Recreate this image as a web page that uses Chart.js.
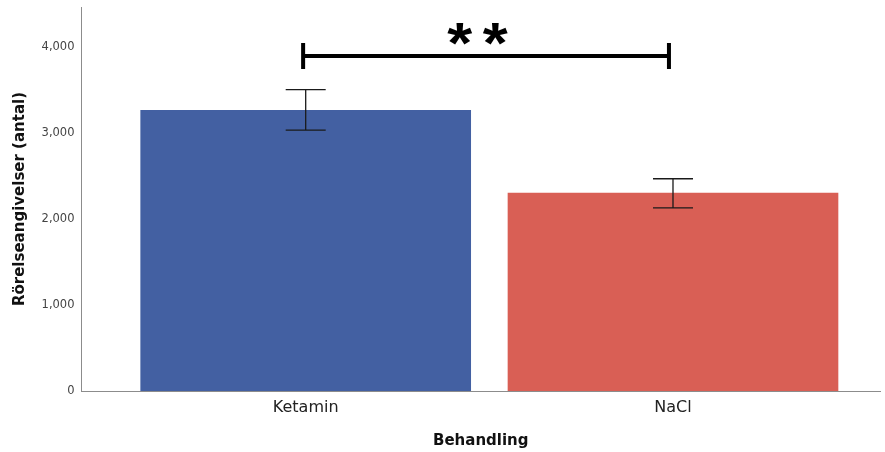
<!DOCTYPE html>
<html>
<head>
<meta charset="utf-8">
<script src="https://cdn.jsdelivr.net/npm/chart.js@4/dist/chart.umd.min.js"></script>
<style>
  html, body { margin: 0; padding: 0; background: #ffffff; }
  #wrap { width: 885px; height: 452px; }
</style>
</head>
<body>
<div id="wrap"><canvas id="c" width="885" height="452"></canvas></div>
<script>
// Treatment groups and their mean movement counts
const categories = ['Ketamin', 'NaCl'];
const positions = [1, 2];
const means = [3260, 2298];
const errLow = [3030, 2128];
const errHigh = [3500, 2465];
const barColors = ['#4360A2', '#D95F55'];
const yTicks = [0, 1000, 2000, 3000, 4000];

// Significance bracket between the two groups
const bracketFrom = 0.993;
const bracketTo = 1.989;
const bracketValue = 3891;
const bracketEnd = 151;
const bracketLabel = '*';

const fontFamily = '"DejaVu Sans", sans-serif';

// Draws the error bars and the significance bracket on top of the bars
const annotations = {
  id: 'annotations',
  afterDatasetsDraw(chart) {
    const ctx = chart.ctx;
    const x = chart.scales.x, y = chart.scales.y;
    ctx.save();
    // error bars
    ctx.strokeStyle = '#1a1a1a';
    ctx.lineWidth = 1.3;
    const capHalf = 20;
    positions.forEach((p, i) => {
      const px = x.getPixelForValue(p);
      const top = y.getPixelForValue(errHigh[i]);
      const bot = y.getPixelForValue(errLow[i]);
      ctx.beginPath();
      ctx.moveTo(px, top); ctx.lineTo(px, bot);
      ctx.moveTo(px - capHalf, top); ctx.lineTo(px + capHalf, top);
      ctx.moveTo(px - capHalf, bot); ctx.lineTo(px + capHalf, bot);
      ctx.stroke();
    });
    // bracket
    const x1 = x.getPixelForValue(bracketFrom);
    const x2 = x.getPixelForValue(bracketTo);
    const by = y.getPixelForValue(bracketValue);
    const byTop = y.getPixelForValue(bracketValue + bracketEnd);
    const byBot = y.getPixelForValue(bracketValue - bracketEnd);
    ctx.strokeStyle = '#000000';
    ctx.lineWidth = 4;
    ctx.lineCap = 'butt';
    ctx.beginPath();
    ctx.moveTo(x1, by); ctx.lineTo(x2, by);
    ctx.moveTo(x1, byTop); ctx.lineTo(x1, byBot);
    ctx.moveTo(x2, byTop); ctx.lineTo(x2, byBot);
    ctx.stroke();
    // significance stars, each glyph fitted to about 25x22 px
    ctx.fillStyle = '#000000';
    ctx.textAlign = 'left';
    ctx.textBaseline = 'alphabetic';
    ctx.font = 'bold 100px "Liberation Sans", Arial, sans-serif';
    const m = ctx.measureText(bracketLabel);
    const gw = m.actualBoundingBoxLeft + m.actualBoundingBoxRight;
    const gh = m.actualBoundingBoxAscent + m.actualBoundingBoxDescent;
    const gcx = (m.actualBoundingBoxRight - m.actualBoundingBoxLeft) / 2;
    const gcy = (m.actualBoundingBoxDescent - m.actualBoundingBoxAscent) / 2;
    const mid = (x1 + x2) / 2;
    const cy = by - 22;
    [-26.3, 9.3].forEach(dx => {
      ctx.save();
      ctx.translate(mid + dx, cy);
      ctx.scale(25 / gw, 22 / gh);
      ctx.fillText(bracketLabel, -gcx, -gcy);
      ctx.restore();
    });
    ctx.restore();
  }
};

new Chart(document.getElementById('c'), {
  type: 'bar',
  data: {
    datasets: [{
      data: positions.map((p, i) => ({ x: p, y: means[i] })),
      backgroundColor: barColors,
      borderWidth: 0,
      barThickness: 330
    }]
  },
  options: {
    responsive: false,
    animation: false,
    layout: { padding: { top: 7, right: 5, left: 0, bottom: 0 } },
    plugins: { legend: { display: false }, tooltip: { enabled: false } },
    scales: {
      x: {
        type: 'linear',
        offset: false,
        bounds: 'data',
        min: 0.3896,
        max: 2.5636,
        grid: { display: false, drawTicks: false },
        border: { color: '#8c8c8c', width: 1 },
        afterBuildTicks: (s) => { s.ticks = positions.map(v => ({ value: v })); },
        afterFit: (s) => { s.height = 61; s.paddingLeft = 0; s.paddingRight = 0; },
        ticks: {
          padding: 7,
          color: '#222222',
          font: { family: fontFamily, size: 16 },
          callback: (v) => categories[positions.indexOf(v)] ?? ''
        },
        title: {
          display: true,
          text: 'Behandling',
          color: '#111111',
          font: { family: fontFamily, size: 15, weight: 'bold' },
          padding: { top: 0, bottom: 2 }
        }
      },
      y: {
        min: 0,
        max: 4460,
        grid: { display: false, drawTicks: false },
        border: { color: '#8c8c8c', width: 1 },
        afterBuildTicks: (s) => { s.ticks = yTicks.map(v => ({ value: v })); },
        afterFit: (s) => { s.width = 81.5; s.paddingTop = 0; s.paddingBottom = 0; },
        ticks: {
          padding: 7,
          color: '#444444',
          font: { family: fontFamily, size: 11.5 },
          callback: (v) => v.toLocaleString('en-US')
        },
        title: {
          display: true,
          text: 'Rörelseangivelser (antal)',
          color: '#111111',
          font: { family: fontFamily, size: 15, weight: 'bold' },
          padding: { top: 11, bottom: 0 }
        }
      }
    }
  },
  plugins: [annotations]
});
</script>
</body>
</html>
